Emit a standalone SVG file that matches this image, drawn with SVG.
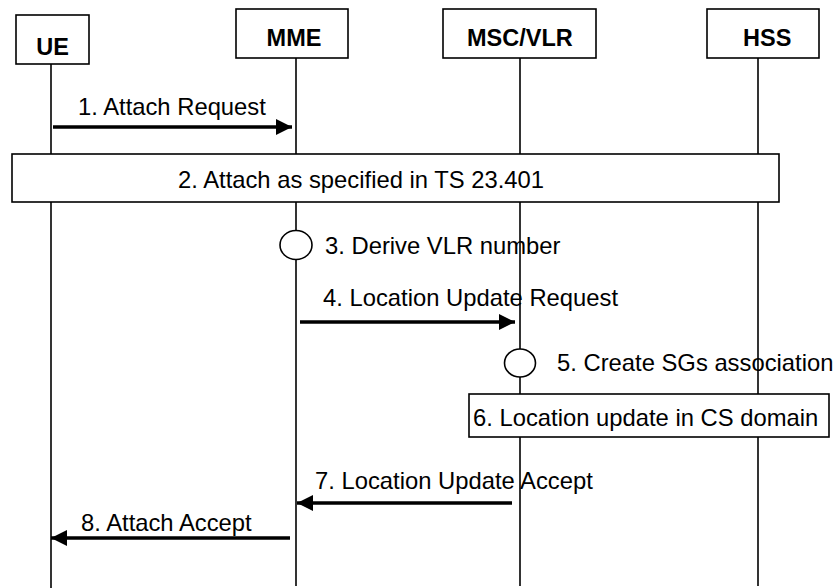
<svg xmlns="http://www.w3.org/2000/svg" width="836" height="588" viewBox="0 0 836 588">
<style>
.box{fill:#fff;stroke:#000;stroke-width:1.6}
.life{stroke:#000;stroke-width:1.6;fill:none}
.msg{stroke:#000;stroke-width:3.5;fill:none;marker-end:url(#ah)}
.name{font-family:"Liberation Sans",Arial,sans-serif;font-weight:bold;font-size:23.5px;fill:#000}
.lbl{font-family:"Liberation Sans",Arial,sans-serif;font-size:23.8px;fill:#000}
.circ{fill:#fff;stroke:#000;stroke-width:1.6}
</style>
<defs>
<marker id="ah" markerUnits="userSpaceOnUse" markerWidth="16" markerHeight="16" refX="16" refY="8" orient="auto">
<path d="M0,0 L16,8 L0,16 z" fill="#000"/>
</marker>
</defs>
<rect width="836" height="588" fill="#fff"/>
<g id="lifelines">
<line class="life" x1="51" y1="64" x2="51" y2="588"/>
<line class="life" x1="296" y1="58" x2="296" y2="586"/>
<line class="life" x1="520" y1="58" x2="520" y2="586"/>
<line class="life" x1="758" y1="58" x2="758" y2="586"/>
</g>
<g id="UE"><rect class="box" x="16" y="15" width="73" height="49"/><text class="name" x="52.5" y="55" text-anchor="middle">UE</text></g>
<g id="MME"><rect class="box" x="236" y="9" width="112" height="49"/><text class="name" x="294" y="46" text-anchor="middle">MME</text></g>
<g id="MSCVLR"><rect class="box" x="443" y="9" width="153" height="49"/><text class="name" x="467" y="46">MSC/VLR</text></g>
<g id="HSS"><rect class="box" x="707" y="9" width="112" height="49"/><text class="name" x="743" y="46">HSS</text></g>
<g id="step2"><rect class="box" x="12" y="154" width="767" height="48"/><text class="lbl" x="178" y="188">2. Attach as specified in TS 23.401</text></g>
<g id="step3"><ellipse class="circ" cx="296" cy="245" rx="16" ry="14.5"/><text class="lbl" x="325" y="254">3. Derive VLR number</text></g>
<g id="step5"><ellipse class="circ" cx="520" cy="363" rx="15.5" ry="14"/><text class="lbl" x="557" y="371">5. Create SGs association</text></g>
<g id="step6"><rect class="box" x="469" y="394" width="360" height="43"/><text class="lbl" x="473" y="426">6. Location update in CS domain</text></g>
<g id="connectors">
<line class="msg" x1="53" y1="127" x2="292" y2="127"/>
<text class="lbl" x="78" y="115">1. Attach Request</text>
<line class="msg" x1="300" y1="322" x2="515" y2="322"/>
<text class="lbl" x="323" y="306">4. Location Update Request</text>
<line class="msg" x1="512" y1="503" x2="297" y2="503"/>
<text class="lbl" x="315" y="489">7. Location Update Accept</text>
<line class="msg" x1="290" y1="538" x2="51" y2="538"/>
<text class="lbl" x="81" y="531">8. Attach Accept</text>
</g>
</svg>
